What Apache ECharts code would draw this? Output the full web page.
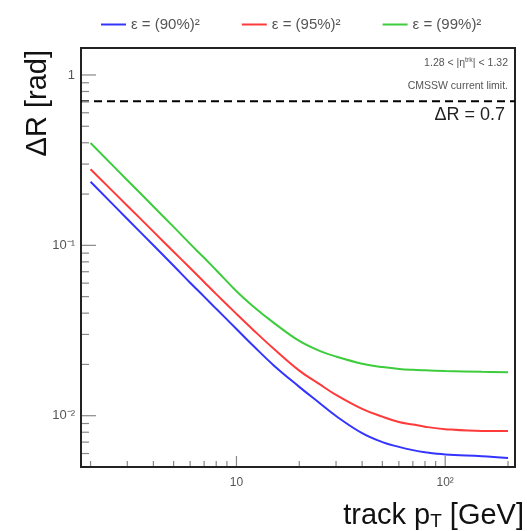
<!DOCTYPE html>
<html>
<head>
<meta charset="utf-8">
<script src="https://cdn.jsdelivr.net/npm/echarts@6/dist/echarts.min.js"></script>
<style>html,body{margin:0;padding:0;background:#fff}#c{width:527px;height:531px}</style>
</head>
<body>
<div id="c"></div>
<script>
// ---- data ----
const pT = [2, 3, 4, 5, 6, 7, 8, 10, 12, 15, 20, 25, 30, 40, 50, 60, 70, 80, 100, 150, 200];
const dR90 = [0.2361, 0.1429, 0.1001, 0.0759, 0.0603, 0.0500, 0.0424, 0.0323, 0.02584, 0.01987, 0.01477, 0.01187, 0.00996, 0.00790, 0.00700, 0.00656, 0.00628, 0.00611, 0.00593, 0.00579, 0.00565];
const dR95 = [0.2797, 0.1709, 0.1204, 0.0917, 0.0736, 0.0609, 0.0517, 0.0396, 0.0320, 0.02488, 0.01840, 0.01532, 0.01325, 0.01097, 0.00987, 0.00919, 0.00888, 0.00862, 0.00834, 0.00813, 0.00813];
const dR99 = [0.3987, 0.2413, 0.1691, 0.1283, 0.1020, 0.08451, 0.07142, 0.05383, 0.04397, 0.03532, 0.02746, 0.02403, 0.02225, 0.02021, 0.01929, 0.01883, 0.01860, 0.01848, 0.01831, 0.01809, 0.01801];
const seriesNames = ['ε = (90%)²', 'ε = (95%)²', 'ε = (99%)²'];
const limitValue = 0.7;
const X_MIN = 1.8, X_MAX = 216;
const Y_MIN = 0.005, Y_MAX = 1.44;
const xTickValues = [2,3,4,5,6,7,8,9,10,20,30,40,50,60,70,80,90,100,200];
const yTickValues = [0.006,0.007,0.008,0.009,0.01,0.02,0.03,0.04,0.05,0.06,0.07,0.08,0.09,0.1,0.2,0.3,0.4,0.5,0.6,0.7,0.8,0.9,1];
const xTickLabels = {1: '10', 2: '10²'};
const yTickLabels = {'-2': '10⁻²', '-1': '10⁻¹', 0: '1'};

const colors = ['#3434ff', '#ff3a3a', '#3ccc3c'];
const FONT = 'Liberation Sans, Arial, sans-serif';

function isPow10(v) { const l = Math.log10(v); return Math.abs(l - Math.round(l)) < 1e-6; }
function pair(xs, ys) { return xs.map((x, i) => [x, ys[i]]); }

const chart = echarts.init(document.getElementById('c'), null, {renderer: 'canvas'});
const curves = [dR90, dR95, dR99].map((d, i) => ({
  name: seriesNames[i], type: 'line', data: pair(pT, d), smooth: 0.4,
  showSymbol: false, symbol: 'none', color: colors[i],
  lineStyle: {width: 2, color: colors[i]}, z: 3
}));

chart.setOption({
  animation: false,
  textStyle: {fontFamily: FONT},
  grid: {left: 81, right: 10, top: 48, bottom: 64, show: true, borderColor: '#222', borderWidth: 2, backgroundColor: 'transparent'},
  legend: {
    data: seriesNames, left: 96, top: 12, itemWidth: 25, itemHeight: 10, itemGap: 42,
    icon: 'path://M0,4 L25,4 L25,6 L0,6 Z',
    textStyle: {fontSize: 15, color: '#555', fontFamily: FONT}
  },
  xAxis: {
    type: 'log', min: X_MIN, max: X_MAX, logBase: 10,
    axisLine: {show: true, lineStyle: {color: '#222', width: 2}},
    axisTick: {show: false}, splitLine: {show: false}, minorTick: {show: false},
    axisLabel: {showMinLabel: false, showMaxLabel: false, margin: 10, fontSize: 12, color: '#555',
      formatter: v => isPow10(v) ? (xTickLabels[Math.round(Math.log10(v))] || '') : ''},
    name: '{a|track p}{b|T}{a| [GeV]}', nameLocation: 'end', nameGap: 9,
    nameTextStyle: {align: 'right', verticalAlign: 'top', padding: [33, 0, 0, 0],
      rich: {a: {fontSize: 29, color: '#111', fontFamily: FONT}, b: {fontSize: 19, color: '#111', fontFamily: FONT, padding: [12, 0, 0, 0]}}}
  },
  yAxis: {
    type: 'log', min: Y_MIN, max: Y_MAX, logBase: 10,
    axisLine: {show: true, lineStyle: {color: '#222', width: 2}},
    axisTick: {show: false}, splitLine: {show: false}, minorTick: {show: false},
    axisLabel: {showMinLabel: false, showMaxLabel: false, margin: 6, fontSize: 13, color: '#555',
      formatter: v => isPow10(v) ? (yTickLabels[Math.round(Math.log10(v))] || '') : ''},
    name: 'ΔR [rad]', nameLocation: 'end', nameRotate: 90, nameGap: -2,
    nameTextStyle: {fontSize: 29, color: '#111', align: 'right', verticalAlign: 'bottom', padding: [0, 0, 29, 0]}
  },
  series: curves.concat([
    {
      name: 'limit', type: 'line', data: [[X_MIN, limitValue], [X_MAX, limitValue]],
      showSymbol: false, symbol: 'none', lineStyle: {color: '#000', width: 2, type: [8, 5]}, z: 2, silent: true
    },
    {
      name: 'xticks', type: 'custom', data: xTickValues.map(v => [v, Y_MIN]), silent: true, z: 4,
      renderItem: (params, api) => {
        const v = api.value(0); const p = api.coord([v, Y_MIN]);
        const len = isPow10(v) ? 10 : 5;
        return {type: 'line', shape: {x1: p[0], y1: p[1] - 1, x2: p[0], y2: p[1] - 1 - len}, style: {stroke: '#888', lineWidth: 1.2}};
      }
    },
    {
      name: 'yticks', type: 'custom', data: yTickValues.map(v => [X_MIN, v]), silent: true, z: 4,
      renderItem: (params, api) => {
        const v = api.value(1); const p = api.coord([X_MIN, v]);
        const len = isPow10(v) ? 14 : 7;
        return {type: 'line', shape: {x1: p[0] + 1, y1: p[1], x2: p[0] + 1 + len, y2: p[1]}, style: {stroke: '#888', lineWidth: 1.2}};
      }
    }
  ]),
  graphic: [
    {type: 'text', right: 19, top: 57, style: {text: '{a|1.28 < |η}{s|trk}{a|| < 1.32}', fill: '#555',
      rich: {a: {fontSize: 10.5, fontFamily: FONT, fill: '#555'}, s: {fontSize: 7, fontFamily: FONT, fill: '#555', padding: [0, 0, 5, 0]}}}},
    {type: 'text', right: 19, top: 81, style: {text: 'CMSSW current limit.', fontSize: 10.5, fontFamily: FONT, fill: '#555'}},
    {type: 'text', right: 22, top: 106, style: {text: 'ΔR = 0.7', fontSize: 18, fontFamily: FONT, fill: '#222'}}
  ]
});
</script>
</body>
</html>
